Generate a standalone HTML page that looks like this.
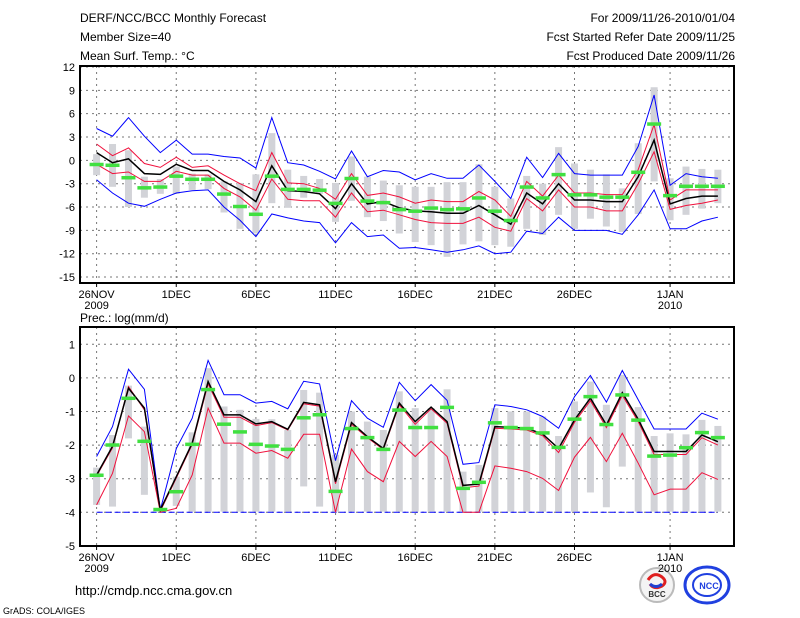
<!DOCTYPE html>
<html><head><meta charset="utf-8"><style>
html,body{margin:0;padding:0;background:#fff;}
svg{display:block;font-family:"Liberation Sans",sans-serif;}
</style></head><body>
<svg id="c" width="800" height="618" viewBox="0 0 800 618" xmlns="http://www.w3.org/2000/svg">
<rect width="800" height="618" fill="#fff"/>
<g font-size="12" fill="#000">
<text x="80" y="22">DERF/NCC/BCC Monthly Forecast</text>
<text x="80" y="41">Member Size=40</text>
<text x="80" y="60">Mean Surf. Temp.: °C</text>
<text x="735" y="22" text-anchor="end">For 2009/11/26-2010/01/04</text>
<text x="735" y="41" text-anchor="end">Fcst Started Refer Date 2009/11/25</text>
<text x="735" y="60" text-anchor="end">Fcst Produced Date 2009/11/26</text>
<text x="80" y="322">Prec.: log(mm/d)</text>
<text x="75" y="595" font-size="13">http://cmdp.ncc.cma.gov.cn</text>
<text x="3" y="614" font-size="9">GrADS: COLA/IGES</text>
</g>
<g>
<circle cx="657" cy="585" r="17" fill="#f4f4f4" stroke="#bbb" stroke-width="2"/>
<path d="M648 580 q6 -9 14 -3 q6 5 0 9 q-8 4 -12 -2" fill="none" stroke="#e02020" stroke-width="3"/>
<path d="M650 584 q6 5 12 0" fill="none" stroke="#2040d0" stroke-width="3"/>
<text x="657" y="597" font-size="8" text-anchor="middle" font-weight="bold" fill="#333">BCC</text>
</g>
<g>
<ellipse cx="707" cy="585" rx="22" ry="18" fill="#fff" stroke="#2040e0" stroke-width="3"/>
<ellipse cx="707" cy="585" rx="14" ry="11" fill="none" stroke="#2040e0" stroke-width="2"/>
<text x="709" y="589" font-size="9" text-anchor="middle" font-weight="bold" fill="#2040e0">NCC</text>
</g>
</svg>
<script>
// ---------- data ----------
const dayLabels = ["26NOV","1DEC","6DEC","11DEC","16DEC","21DEC","26DEC","1JAN"];
const dayLabelIdx = [0,5,10,15,20,25,30,36];
const yearLabels = ["2009","2010"];
const yearLabelIdx = [0,36];
const tTicks = [12,9,6,3,0,-3,-6,-9,-12,-15];
const pTicks = [1,0,-1,-2,-3,-4,-5];

const tBlueHi = [4.1,3.1,5.5,3.1,1.0,2.6,0.8,0.8,0.5,0.3,-1.0,5.5,-0.3,-0.6,-1.4,-2.4,1.2,-2.1,-1.3,-1.5,-2.5,-1.7,-2.3,-2.3,-0.6,-2.7,-4.9,0.4,-2.2,0.9,-1.7,-1.9,-1.9,-1.9,1.8,8.4,-3.2,-1.7,-2.1,-2.3];
const tBlueLo = [-2.5,-4.2,-5.5,-5.9,-5.0,-4.2,-3.9,-3.8,-6.0,-7.7,-9.8,-6.9,-7.4,-7.8,-8.0,-10.6,-8.0,-9.8,-9.6,-11.3,-11.2,-11.5,-11.8,-11.5,-11.0,-12.0,-11.8,-9.1,-9.4,-7.3,-9.0,-9.0,-9.0,-9.5,-7.0,-3.8,-8.8,-8.8,-7.8,-7.3];
const tRedHi = [2.1,0.6,1.6,-0.4,-0.9,0.4,-0.9,-0.7,-1.9,-3.0,-3.9,1.0,-2.9,-3.0,-3.6,-5.0,-1.7,-4.5,-4.2,-4.7,-5.5,-5.1,-5.3,-5.3,-4.0,-5.1,-7.2,-2.7,-4.6,-1.9,-4.2,-4.2,-4.4,-4.4,-1.2,4.6,-5.1,-3.8,-3.8,-3.8];
const tMean = [1.0,-0.3,0.2,-1.7,-1.8,-0.5,-1.3,-1.3,-2.7,-3.8,-5.3,-0.7,-3.9,-4.0,-4.3,-6.2,-3.0,-5.6,-5.3,-6.1,-6.5,-6.6,-6.8,-6.8,-5.8,-7.0,-8.2,-4.2,-5.6,-3.0,-5.1,-5.1,-5.3,-5.3,-2.1,2.6,-5.6,-4.9,-4.6,-4.6];
const tRedLo = [-0.5,-1.7,-1.5,-2.7,-2.7,-1.4,-1.9,-1.9,-3.6,-4.7,-6.4,-2.4,-5.0,-5.2,-5.2,-7.3,-4.2,-6.6,-6.4,-7.0,-7.6,-8.0,-8.1,-8.1,-7.3,-8.6,-9.1,-4.9,-6.5,-3.8,-6.0,-6.0,-6.5,-6.5,-3.0,1.1,-6.3,-5.8,-5.5,-5.1];
const tObs = [-0.5,-0.6,-2.2,-3.5,-3.4,-2.0,-2.4,-2.4,-4.3,-5.9,-6.9,-2.0,-3.7,-3.7,-3.8,-5.5,-2.3,-5.2,-5.4,-6.3,-6.5,-6.1,-6.3,-6.2,-4.8,-6.5,-7.7,-3.4,-4.8,-1.8,-4.4,-4.4,-4.7,-4.7,-1.5,4.7,-4.5,-3.3,-3.3,-3.3];
const tBarHi = [0.8,2.1,1.3,-2.1,-2.4,-0.8,-1.7,-1.8,-2.7,-2.9,-1.8,3.5,-1.2,-2.0,-2.4,-2.9,0.5,-2.1,-2.6,-3.2,-3.4,-3.4,-2.8,-2.8,-0.5,-3.4,-4.9,-2.0,-3.0,1.7,-0.4,-1.2,-1.8,-3.6,2.2,9.4,-2.3,-0.8,-1.1,-1.2];
const tBarLo = [-1.9,-3.4,-6.0,-4.8,-4.3,-4.3,-3.8,-3.7,-6.7,-8.8,-9.4,-5.5,-6.1,-4.8,-4.3,-7.9,-5.2,-7.3,-7.8,-9.4,-10.5,-10.9,-12.4,-10.8,-10.4,-10.9,-11.1,-8.8,-9.6,-7.0,-8.8,-7.5,-8.5,-9.2,-6.9,-2.7,-7.7,-7.0,-6.2,-5.5];

const pBlueHi = [-2.34,-1.45,0.26,-0.34,-3.93,-2.1,-1.2,0.52,-0.5,-0.5,-0.75,-0.7,-0.92,-0.1,-0.18,-2.46,-0.68,-1.2,-1.47,-0.13,-0.68,-0.2,-0.67,-2.57,-2.52,-0.8,-0.85,-0.95,-1.15,-1.5,-0.56,0.07,-0.72,0.22,-0.65,-1.52,-1.52,-1.52,-1.05,-1.23];
const pBlueLo = [-4,-4,-4,-4,-4,-4,-4,-4,-4,-4,-4,-4,-4,-4,-4,-4,-4,-4,-4,-4,-4,-4,-4,-4,-4,-4,-4,-4,-4,-4,-4,-4,-4,-4,-4,-4,-4,-4,-4,-4];
const pMean = [-2.89,-2.04,-0.31,-0.9,-3.93,-2.94,-1.94,-0.11,-1.1,-1.1,-1.37,-1.3,-1.53,-0.73,-0.8,-3.09,-1.33,-1.75,-2.1,-0.75,-1.3,-0.87,-1.3,-3.2,-3.16,-1.45,-1.47,-1.5,-1.67,-2.1,-1.25,-0.6,-1.4,-0.44,-1.23,-2.19,-2.19,-2.19,-1.7,-1.9];
const pRedHi = [-2.92,-2.08,-0.26,-0.95,-3.97,-2.98,-1.98,-0.18,-1.17,-1.17,-1.42,-1.33,-1.55,-0.77,-0.84,-3.15,-1.38,-1.78,-2.13,-0.8,-1.38,-0.92,-1.35,-3.27,-3.22,-1.5,-1.52,-1.55,-1.72,-2.22,-1.32,-0.68,-1.48,-0.52,-1.3,-2.28,-2.28,-2.28,-1.78,-2.0];
const pRedLo = [-3.78,-2.84,-1.13,-1.6,-4.0,-3.88,-2.89,-0.9,-1.94,-1.94,-2.24,-2.16,-2.39,-1.68,-1.68,-4.0,-2.12,-2.79,-3.09,-1.89,-2.34,-1.89,-2.34,-4.0,-4.0,-2.62,-2.69,-2.79,-2.99,-3.35,-2.36,-1.77,-2.49,-1.65,-2.54,-3.48,-3.31,-3.31,-2.82,-3.02];
const pObs = [-2.89,-1.99,-0.6,-1.88,-3.91,-3.38,-1.97,-0.34,-1.37,-1.6,-1.97,-2.02,-2.12,-1.18,-1.09,-3.37,-1.5,-1.77,-2.12,-0.95,-1.47,-1.47,-0.87,-3.28,-3.1,-1.33,-1.47,-1.5,-1.63,-2.06,-1.22,-0.55,-1.38,-0.5,-1.25,-2.32,-2.29,-2.07,-1.62,-1.77];
const pBarHi = [-2.67,-1.7,-0.23,-1.45,-3.95,-2.94,-1.62,0.29,-0.85,-0.95,-1.22,-1.23,-1.55,-0.36,-0.44,-2.29,-1.0,-1.3,-1.55,-0.4,-0.9,-0.9,-0.34,-2.79,-2.59,-0.9,-1.0,-1.0,-1.15,-1.73,-0.7,-0.11,-0.8,0.09,-0.87,-1.73,-1.65,-1.68,-1.25,-1.43];
const pBarLo = [-3.78,-3.83,-1.8,-3.48,-3.98,-3.81,-3.98,-3.98,-3.98,-3.98,-3.98,-3.98,-3.98,-3.23,-3.83,-3.98,-3.98,-3.98,-3.98,-3.98,-3.98,-3.98,-3.98,-3.98,-3.98,-3.98,-3.98,-3.98,-3.98,-3.98,-3.98,-3.41,-3.85,-2.64,-3.98,-3.98,-3.98,-3.98,-3.98,-3.98];

// ---------- drawing ----------
const NS = "http://www.w3.org/2000/svg";
const svg = document.getElementById('c');
const X0 = 80, X1 = 734;
function xDay(d){ return 96.6 + 15.93*d; }
function mk(tag, attrs, parent){
  const e = document.createElementNS(NS, tag);
  for (const k in attrs) e.setAttribute(k, attrs[k]);
  (parent||svg).appendChild(e);
  return e;
}
function drawPanel(cfg){
  const g = mk('g', {});
  
  
  const y = cfg.y;
  // grid
  cfg.ticks.forEach(t => {
    const l = mk('line', {x1:X0, x2:X1, y1:y(t), y2:y(t), stroke:'#777', 'stroke-dasharray':'2,4', 'stroke-width':1}, g);
    
    
    const tx = mk('text', {x:X0-5, y:y(t)+4, 'text-anchor':'end', 'font-size':11}, g);
    
    
    tx.textContent = t;
  });
  dayLabelIdx.forEach((d,i) => {
    const l = mk('line', {x1:xDay(d), x2:xDay(d), y1:cfg.top, y2:cfg.bot, stroke:'#777', 'stroke-dasharray':'2,4', 'stroke-width':1}, g);
    
    
    const tk = mk('line', {x1:xDay(d), x2:xDay(d), y1:cfg.bot, y2:cfg.bot+4, stroke:'#000'}, g);
    
    
    const tx = mk('text', {x:xDay(d), y:cfg.bot+15, 'text-anchor':'middle', 'font-size':11}, g);
    
    
    tx.textContent = dayLabels[i];
  });
  yearLabelIdx.forEach((d,i) => {
    const tx = mk('text', {x:xDay(d), y:cfg.bot+26, 'text-anchor':'middle', 'font-size':11}, g);
    
    
    tx.textContent = yearLabels[i];
  });
  // bars
  cfg.barHi.forEach((h,d) => {
    const lo = cfg.barLo[d];
    const r = mk('rect', {x:xDay(d)-3.5, y:y(h), width:7, height:Math.max(1, y(lo)-y(h)), fill:'#d2d3d8'}, g);
    
    
  });
  // lines
  function line(arr, color, w, name, dash){
    const pts = arr.map((v,d) => xDay(d).toFixed(1)+','+y(v).toFixed(1)).join(' ');
    const p = mk('polyline', {points:pts, fill:'none', stroke:color, 'stroke-width':w}, g);
    if (dash) p.setAttribute('stroke-dasharray', dash);
    
    
  }
  line(cfg.blueHi, '#0000ff', 1, 'max-line');
  line(cfg.blueLo, '#0000ff', 1, 'min-line', cfg.loDash);
  line(cfg.redHi, '#f0103c', 1, 'upper-line');
  line(cfg.redLo, '#f0103c', 1, 'lower-line');
  line(cfg.mean, '#000', 1.5, 'mean-line');
  // obs markers
  cfg.obs.forEach((v,d) => {
    const r = mk('rect', {x:xDay(d)-7, y:y(v)-1.5, width:14, height:3.5, fill:'#40e040'}, g);
    
    
  });
  const f = mk('rect', {x:X0, y:cfg.top, width:X1-X0, height:cfg.bot-cfg.top, fill:'none', stroke:'#000', 'stroke-width':2}, g);
  
  
}
drawPanel({name:'temperature-panel', top:66, bot:283, ticks:tTicks,
  y: v => 67 + (12 - v)*7.78,
  barHi:tBarHi, barLo:tBarLo, blueHi:tBlueHi, blueLo:tBlueLo, redHi:tRedHi, redLo:tRedLo, mean:tMean, obs:tObs});
drawPanel({name:'precipitation-panel', top:327, bot:546, ticks:pTicks,
  y: v => 344.3 + (1 - v)*33.6,
  barHi:pBarHi, barLo:pBarLo, blueHi:pBlueHi, blueLo:pBlueLo, redHi:pRedHi, redLo:pRedLo, mean:pMean, obs:pObs, loDash:'6,3'});
</script>
</body></html>
